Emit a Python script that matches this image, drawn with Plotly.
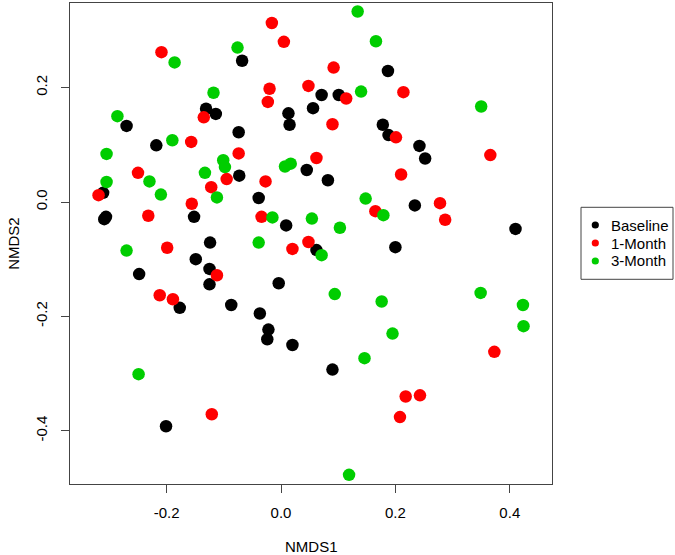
import plotly.graph_objects as go

# ---- data ----
baseline_x = [-0.068, -0.131, -0.114, 0.056, 0.013, 0.015, -0.270, -0.074, -0.218, 0.045,
              -0.073, -0.311, -0.039, -0.152, -0.309, -0.306, 0.009, -0.124, 0.187, 0.071,
              0.101, 0.178, 0.188, 0.242, 0.252, 0.082, 0.234, 0.410, 0.062, 0.200,
              -0.149, -0.248, -0.125, -0.125, -0.004, -0.177, -0.087, -0.037, -0.022, -0.024,
              0.020, -0.201, 0.090]
baseline_y = [0.247, 0.163, 0.154, 0.164, 0.155, 0.135, 0.133, 0.122, 0.099, 0.056,
              0.046, 0.016, 0.007, -0.026, -0.030, -0.026, -0.041, -0.071, 0.229, 0.187,
              0.187, 0.135, 0.117, 0.098, 0.076, 0.038, -0.006, -0.047, -0.084, -0.079,
              -0.100, -0.126, -0.117, -0.144, -0.142, -0.185, -0.180, -0.195, -0.223, -0.240,
              -0.250, -0.392, -0.293]

month1_x = [-0.016, 0.005, -0.209, 0.048, -0.020, -0.023, -0.135, -0.157, -0.074, -0.250,
            -0.095, -0.027, -0.122, -0.319, -0.156, -0.232, -0.034, 0.048, 0.020, -0.199,
            0.092, 0.114, 0.214, 0.090, 0.201, 0.366, 0.062, 0.210, 0.165, 0.278,
            0.287, -0.112, -0.212, -0.189, -0.121, 0.373, 0.218, 0.243, 0.208]
month1_y = [0.313, 0.280, 0.262, 0.203, 0.198, 0.175, 0.148, 0.105, 0.085, 0.051,
            0.040, 0.036, 0.026, 0.012, -0.003, -0.024, -0.026, -0.070, -0.082, -0.080,
            0.235, 0.181, 0.192, 0.136, 0.113, 0.082, 0.077, 0.048, -0.016, -0.002,
            -0.031, -0.128, -0.163, -0.170, -0.371, -0.262, -0.340, -0.338, -0.376]

month3_x = [-0.076, -0.186, -0.118, -0.286, -0.190, -0.305, -0.101, -0.098, 0.007, 0.017,
            -0.230, -0.133, -0.305, -0.210, -0.112, -0.015, 0.054, -0.039, -0.270, 0.134,
            0.166, 0.140, 0.350, 0.148, 0.179, 0.103, 0.071, 0.094, 0.176, 0.195,
            0.146, 0.349, 0.423, 0.424, 0.119, -0.249]
month3_y = [0.270, 0.244, 0.191, 0.150, 0.108, 0.084, 0.073, 0.061, 0.062, 0.067,
            0.036, 0.051, 0.035, 0.013, 0.008, -0.027, -0.029, -0.071, -0.085, 0.333,
            0.281, 0.193, 0.167, 0.006, -0.023, -0.045, -0.093, -0.161, -0.174, -0.230,
            -0.273, -0.159, -0.180, -0.217, -0.477, -0.301]

group_names = ["Baseline", "1-Month", "3-Month"]
group_colors = ["#000000", "#FF0000", "#00CD00"]
x_ticks = [-0.2, 0.0, 0.2, 0.4]
x_ticktext = ["-0.2", "0.0", "0.2", "0.4"]
y_ticks = [-0.4, -0.2, 0.0, 0.2]
y_ticktext = ["-0.4", "-0.2", "0.0", "0.2"]

FONT = "Liberation Sans, Arial, Helvetica, sans-serif"
FRAME = "#444444"

fig = go.Figure()
for name, color, xs, ys in zip(group_names, group_colors,
                               [baseline_x, month1_x, month3_x],
                               [baseline_y, month1_y, month3_y]):
    fig.add_trace(go.Scatter(x=xs, y=ys, mode="markers", name=name,
                             marker=dict(color=color, size=12.5, line=dict(width=0)),
                             showlegend=False))

W, H = 675, 555
L, R, T, B = 70, 123, 3, 71
pw, ph = W - L - R, H - T - B

def px_x(p):
    return (p - L) / pw

def px_y(p):
    return (H - B - p) / ph

axis_common = dict(showgrid=False, zeroline=False, showline=True, mirror=True,
                   linecolor=FRAME, linewidth=1, ticks="outside", ticklen=8,
                   tickwidth=1, tickcolor=FRAME,
                   tickfont=dict(family=FONT, size=15, color="#000000"))

fig.update_xaxes(range=[-0.3689, 0.4738], tickvals=x_ticks, ticktext=x_ticktext,
                 ticklabelstandoff=7, **axis_common)
fig.update_yaxes(range=[-0.4930, 0.3479], tickvals=y_ticks, ticktext=y_ticktext,
                 tickangle=-90, ticklabelstandoff=8, **axis_common)

shapes = [dict(type="rect", xref="paper", yref="paper",
               x0=px_x(581), x1=px_x(673), y0=px_y(279.3), y1=px_y(207.3),
               line=dict(color=FRAME, width=1), fillcolor="white")]
annotations = []
for i, (name, color) in enumerate(zip(group_names, group_colors)):
    yc = px_y(225 + 18 * i)
    shapes.append(dict(type="circle", xref="paper", yref="paper",
                       xsizemode="pixel", ysizemode="pixel",
                       xanchor=px_x(595.3), yanchor=yc,
                       x0=-3.6, x1=3.6, y0=-3.6, y1=3.6,
                       fillcolor=color, line=dict(width=0)))
    annotations.append(dict(text=name, xref="paper", yref="paper",
                            x=px_x(609), y=yc, xanchor="left", yanchor="middle",
                            showarrow=False,
                            font=dict(family=FONT, size=15, color="#000000")))

annotations.append(dict(text="NMDS1", xref="paper", yref="paper", x=0.5, y=0,
                        yshift=-62.7, xanchor="center", yanchor="middle",
                        showarrow=False, font=dict(family=FONT, size=15, color="#000000")))
annotations.append(dict(text="NMDS2", xref="paper", yref="paper", x=0, y=0.5,
                        xshift=-56.7, xanchor="center", yanchor="middle", textangle=-90,
                        showarrow=False, font=dict(family=FONT, size=15, color="#000000")))

fig.update_layout(width=W, height=H, margin=dict(l=L, r=R, t=T, b=B),
                  plot_bgcolor="white", paper_bgcolor="white",
                  shapes=shapes, annotations=annotations, showlegend=False,
                  font=dict(family=FONT))

fig.write_html("out.html", config={"displayModeBar": False},
               post_script="document.body.style.margin='0px';document.body.style.overflow='hidden';")
